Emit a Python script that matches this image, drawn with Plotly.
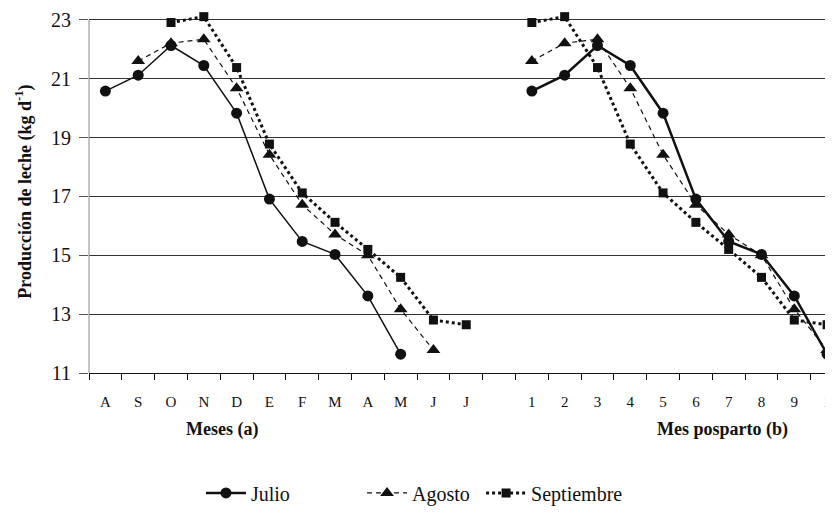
import plotly.graph_objects as go

# ---- data ----
meses = ["A", "S", "O", "N", "D", "E", "F", "M", "A", "M", "J", "J"]
mes_posparto = ["1", "2", "3", "4", "5", "6", "7", "8", "9", "1"]
series_names = ["Julio", "Agosto", "Septiembre"]
inicio_mes = [0, 1, 2]  # index in 'meses' of first lactation month
julio = [20.58, 21.12, 22.13, 21.45, 19.83, 16.91, 15.47, 15.03, 13.62, 11.64]
agosto = [21.60, 22.21, 22.34, 20.68, 18.42, 16.72, 15.71, 15.00, 13.17, 11.78]
septiembre = [22.91, 23.11, 21.38, 18.78, 17.12, 16.12, 15.20, 14.25, 12.80, 12.64]
y_ticks = [11, 13, 15, 17, 19, 21, 23]

values = [julio, agosto, septiembre]

FONT = "Liberation Serif, Times New Roman, Tinos, DejaVu Serif, serif"
BLACK = "#111111"

# category positions: left panel 0..11, gap at 12, right panel 13..22
n_left = len(meses)
right_start = n_left + 1
tick_centers = list(range(n_left)) + [right_start + i for i in range(len(mes_posparto))]
tick_text = meses + mes_posparto

styles = [
    dict(symbol="circle", size=11, dash="solid", wl=1.5, wr=2.5),
    dict(symbol="triangle-up", size=12, dash="5px,4px", wl=1.2, wr=1.2),
    dict(symbol="square", size=9, dash="dot", wl=3, wr=3),
]

fig = go.Figure()
legends = ["legend", "legend2", "legend3"]
for k, (name, vals, st) in enumerate(zip(series_names, values, styles)):
    xl = [inicio_mes[k] + i for i in range(len(vals))]
    xr = [right_start + i for i in range(len(vals))]
    fig.add_trace(go.Scatter(
        x=xl, y=vals, mode="lines+markers", name=name, showlegend=False,
        cliponaxis=False,
        line=dict(color=BLACK, width=st["wl"], dash=st["dash"]),
        marker=dict(symbol=st["symbol"], size=st["size"], color=BLACK),
    ))
    fig.add_trace(go.Scatter(
        x=xr, y=vals, mode="lines+markers", name=name, showlegend=True,
        legend=legends[k], cliponaxis=False,
        line=dict(color=BLACK, width=st["wr"], dash=st["dash"]),
        marker=dict(symbol=st["symbol"], size=st["size"], color=BLACK),
    ))

xr_range = [-0.5, 22.18]
y_top = 23.2
fig.update_layout(
    width=825, height=505,
    margin=dict(l=81, r=0, t=6, b=137),
    paper_bgcolor="white", plot_bgcolor="white",
    font=dict(family=FONT, color=BLACK),
    xaxis=dict(
        range=xr_range, tickmode="array", tickvals=tick_centers, ticktext=tick_text,
        ticks="outside", ticklen=15, tickcolor="rgba(0,0,0,0)",
        ticklabeloverflow="allow",
        tickfont=dict(family=FONT, size=15, color=BLACK),
        minor=dict(tickmode="linear", tick0=-0.5, dtick=1, ticks="outside",
                   ticklen=6, tickcolor=BLACK, tickwidth=1, showgrid=False),
        showgrid=False, zeroline=False,
        showline=True, linecolor=BLACK, linewidth=1,
    ),
    yaxis=dict(
        range=[11, y_top], tickmode="array", tickvals=y_ticks,
        ticks="outside", ticklen=9, tickcolor="#555555",
        ticklabelstandoff=4,
        showgrid=True, gridcolor="#333333", gridwidth=1,
        zeroline=False, showline=False,
        tickfont=dict(family=FONT, size=20, color=BLACK),
    ),
    shapes=[dict(type="line", xref="paper", yref="y", x0=0, x1=0,
                 y0=min(y_ticks), y1=max(y_ticks),
                 line=dict(color="#888888", width=1))],
    annotations=[
        dict(text="<b>Producción de leche (kg d<sup>-1</sup>)</b>", textangle=-90,
             xref="paper", yref="paper", x=-0.0874, y=0.505, showarrow=False,
             xanchor="center", yanchor="middle",
             font=dict(family=FONT, size=18, color=BLACK)),
        dict(text="<b>Meses (a)</b>", xref="paper", yref="paper",
             x=0.179, y=-0.157, showarrow=False, xanchor="center", yanchor="middle",
             font=dict(family=FONT, size=18, color=BLACK)),
        dict(text="<b>Mes posparto (b)</b>", xref="paper", yref="paper",
             x=0.852, y=-0.157, showarrow=False, xanchor="center", yanchor="middle",
             font=dict(family=FONT, size=18, color=BLACK)),
    ],
)
for lg, xpos in zip(legends, [0.1505, 0.367, 0.527]):
    fig.update_layout({lg: dict(
        x=xpos, y=-0.334, xanchor="left", yanchor="middle", orientation="h",
        bgcolor="rgba(0,0,0,0)", itemwidth=40,
        font=dict(family=FONT, size=20, color=BLACK),
    )})

fig.write_html("out.html")
